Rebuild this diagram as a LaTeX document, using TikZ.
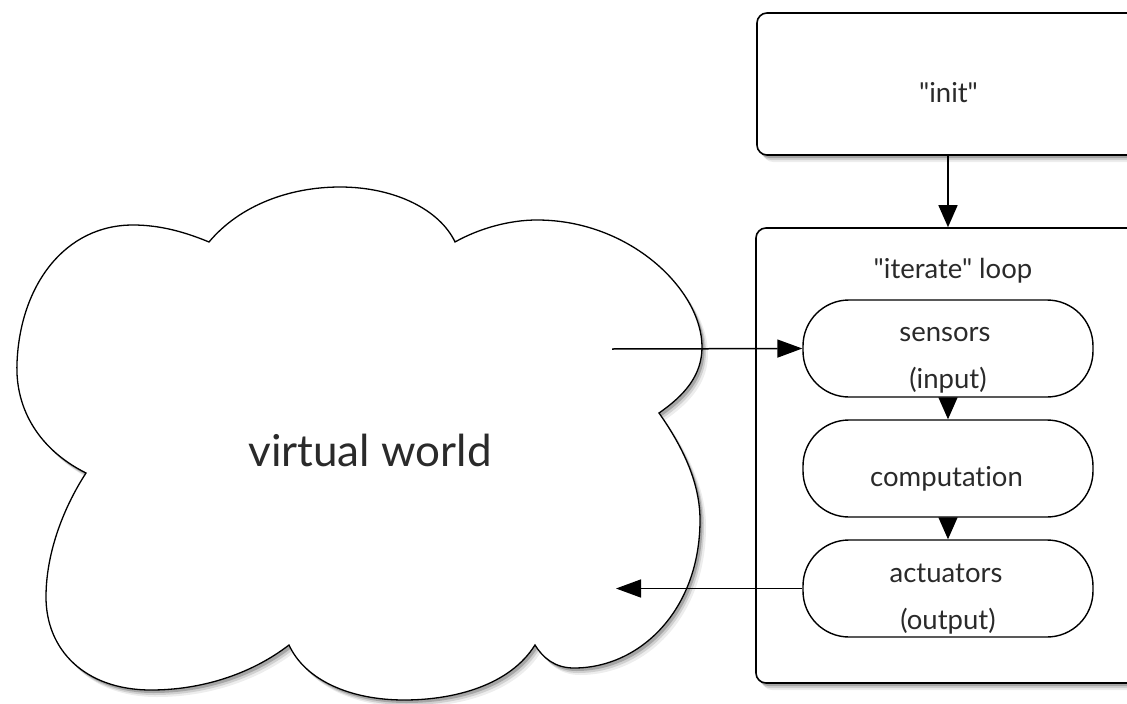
\documentclass[tikz,border=0pt]{standalone}
\usepackage{fontspec}
\newfontfamily\lato{Lato}[Ligatures=NoCommon]
\usetikzlibrary{arrows.meta,shadows}
\definecolor{txtc}{HTML}{2A2A2A}
\begin{document}
\begin{tikzpicture}[x=1pt,y=-1pt,
  softshadow/.style={
    drop shadow={shadow xshift=6pt,shadow yshift=-7pt,opacity=0.07,fill=black},
    drop shadow={shadow xshift=4pt,shadow yshift=-5pt,opacity=0.12,fill=black},
    drop shadow={shadow xshift=2.5pt,shadow yshift=-3pt,opacity=0.2,fill=black}},
  box/.style={draw=black,line width=1.6pt,rounded corners=10pt,fill=white,softshadow,inner sep=0pt},
  pill/.style={draw=black,line width=1.4pt,rounded corners=46pt,fill=white,
    minimum width=290pt,minimum height=97pt,inner sep=0pt},
  lbl/.style={anchor=base,text=txtc,font=\lato\fontsize{27.5}{33}\selectfont,inner sep=0pt},
  arr/.style={draw=black,line width=1.5pt,-{Triangle[length=22pt,width=19pt]}},
  arrh/.style={draw=black,line width=1.5pt,-{Triangle[length=25pt,width=18pt]}}
]
\useasboundingbox (0,0) rectangle (1127,704);
\clip (0,0) rectangle (1127,704);
\fill[white] (0,0) rectangle (1127,704);

% cloud
\draw[line width=1.3pt,fill=white,softshadow]
  (86,473) .. controls (40,450) and (15,410) .. (17,363)
  .. controls (20,285) and (65,225) .. (133,225)
  .. controls (160,225) and (185,232) .. (209,242)
  .. controls (240,205) and (290,187) .. (340,187)
  .. controls (395,187) and (440,210) .. (455,242)
  .. controls (480,228) and (510,220) .. (537,220)
  .. controls (630,220) and (702,290) .. (702,347)
  .. controls (702,375) and (685,395) .. (659,413)
  .. controls (685,450) and (700,485) .. (700,520)
  .. controls (700,610) and (640,668) .. (574,668)
  .. controls (555,668) and (543,658) .. (535,645)
  .. controls (510,685) and (455,700) .. (404,700)
  .. controls (350,700) and (305,680) .. (289,645)
  .. controls (250,675) and (200,690) .. (151,690)
  .. controls (85,690) and (46,650) .. (46,597)
  .. controls (46,555) and (62,510) .. (86,473) -- cycle;
\node[anchor=base,text=txtc,font=\lato\fontsize{44}{52}\selectfont,inner sep=0pt] (vw) at (370,466) {virtual world};

% boxes
\node[box,minimum width=382pt,minimum height=142pt] (init) at (948,84) {};
\node[lbl] (initlbl) at (948.5,102) {"init"};
\node[box,minimum width=384pt,minimum height=455pt] (loop) at (948,455.5) {};
\node[lbl] (looplbl) at (953,278) {"iterate" loop};

\node[pill] (sens) at (948,348.5) {};
\node[pill] (comp) at (948,468.5) {};
\node[pill] (act) at (948,588.5) {};

\node[lbl] (t1) at (945,341) {sensors};
\node[lbl] (t2) at (948,388) {(input)};
\node[lbl] (t3) at (946.5,486) {computation};
\node[lbl] (t4) at (946,582) {actuators};
\node[lbl] (t5) at (948,629) {(output)};

\coordinate (cin) at (612,349);
\coordinate (cout) at (616,588.5);

\draw[arr] (init.south) -- (loop.north);
\draw[arr] (sens.south) -- (comp.north);
\draw[arr] (comp.south) -- (act.north);
\draw[arrh] (cin) -- (sens.west);
\draw[arrh] (act.west) -- (cout);
\end{tikzpicture}
\end{document}
